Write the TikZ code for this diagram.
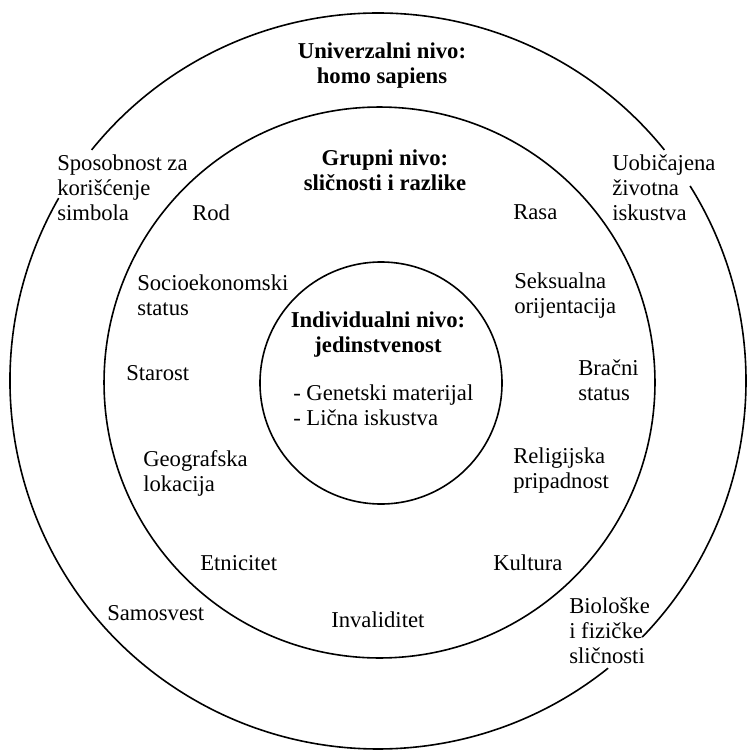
\documentclass[tikz,border=0pt]{standalone}
\usepackage{fontspec}
\setmainfont{Liberation Serif}
\begin{document}
\begin{tikzpicture}[x=0.75pt,y=-0.75pt,
  lbl/.style={font=\fontsize{17}{18.75}\selectfont, inner sep=0pt, align=left, anchor=west},
  hdr/.style={font=\fontsize{17}{18.75}\selectfont\bfseries, inner sep=0pt, align=center, anchor=center},
  ring/.style={line width=1.2pt}]
\useasboundingbox (0,0) rectangle (747,752);
\fill[white] (0,0) rectangle (747,752);
% outer ring, broken where its labels sit
\coordinate (oc) at (378,381);
\draw[ring] ([shift={(oc)}]-44.1:276pt) arc [start angle=-44.1, end angle=32, radius=276pt];
\draw[ring] ([shift={(oc)}]38.9:276pt) arc [start angle=38.9, end angle=141.1, radius=276pt];
\draw[ring] ([shift={(oc)}]150.2:276pt) arc [start angle=150.2, end angle=308.7, radius=276pt];
% group and individual rings
\draw[ring] (379.5,382.5) circle [radius=206.6pt];
\draw[ring] (381,383) circle [radius=90.75pt];
% headings
\node[hdr] (univ) at (382,66) {Univerzalni nivo:\\homo sapiens};
\node[hdr] (grup) at (385,170) {Grupni nivo:\\sličnosti i razlike};
\node[hdr] (indiv) at (378,334.5) {Individualni nivo:\\jedinstvenost};
\node[lbl] (gen) at (293,405) {- Genetski materijal\\- Lična iskustva};
% outer ring labels
\node[lbl] (sposob) at (57,188) {Sposobnost za\\korišćenje\\simbola};
\node[lbl] (uobic) at (612,188) {Uobičajena\\životna\\iskustva};
\node[lbl] (biol) at (569,631) {Biološke\\i fizičke\\sličnosti};
\node[lbl] (samo) at (107,613) {Samosvest};
% group ring labels
\node[lbl] (rod) at (192,213) {Rod};
\node[lbl] (rasa) at (513,212) {Rasa};
\node[lbl] (socio) at (137,295.5) {Socioekonomski\\status};
\node[lbl] (seks) at (514,295.5) {Seksualna\\orijentacija};
\node[lbl] (star) at (126,373) {Starost};
\node[lbl] (brac) at (578,380.5) {Bračni\\status};
\node[lbl] (geo) at (143,473.5) {Geografska\\lokacija};
\node[lbl] (relig) at (513,470.5) {Religijska\\pripadnost};
\node[lbl] (etn) at (200,563) {Etnicitet};
\node[lbl] (kult) at (493,563) {Kultura};
\node[lbl] (inval) at (331,620) {Invaliditet};
\end{tikzpicture}
\end{document}
